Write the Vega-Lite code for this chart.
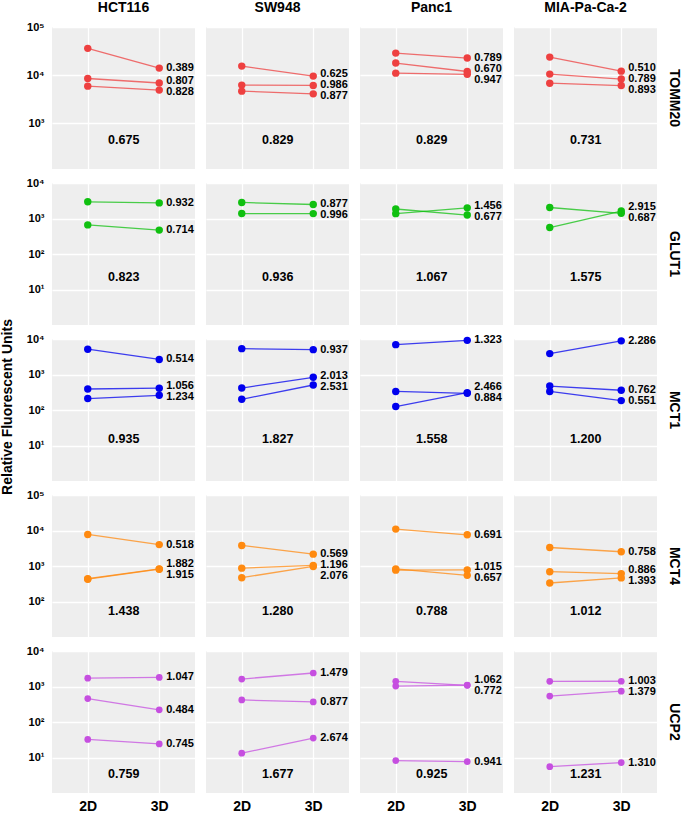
{
"$schema": "https://vega.github.io/schema/vega-lite/v6.json",
"padding": {"left": 1, "top": 1, "right": 2, "bottom": 1},
"title": {"text": "Relative Fluorescent Units", "orient": "left", "anchor": "middle", "fontSize": 14, "fontWeight": "bold", "font": "Liberation Sans", "offset": 11, "color": "black"},
"data": {"values": [
{"p":"TOMM20","c":"HCT116","k":"2D","g":1,"v":36000},{"p":"TOMM20","c":"HCT116","k":"3D","g":1,"v":14000,"r":"0.389","s":"0.675"},
{"p":"TOMM20","c":"HCT116","k":"2D","g":2,"v":8500},{"p":"TOMM20","c":"HCT116","k":"3D","g":2,"v":6860,"r":"0.807"},
{"p":"TOMM20","c":"HCT116","k":"2D","g":3,"v":5900},{"p":"TOMM20","c":"HCT116","k":"3D","g":3,"v":4885,"r":"0.828"},
{"p":"TOMM20","c":"SW948","k":"2D","g":1,"v":15400},{"p":"TOMM20","c":"SW948","k":"3D","g":1,"v":9550,"r":"0.625","s":"0.829"},
{"p":"TOMM20","c":"SW948","k":"2D","g":2,"v":6200},{"p":"TOMM20","c":"SW948","k":"3D","g":2,"v":6100,"r":"0.986"},
{"p":"TOMM20","c":"SW948","k":"2D","g":3,"v":4650},{"p":"TOMM20","c":"SW948","k":"3D","g":3,"v":4080,"r":"0.877"},
{"p":"TOMM20","c":"Panc1","k":"2D","g":1,"v":28700},{"p":"TOMM20","c":"Panc1","k":"3D","g":1,"v":22650,"r":"0.789","s":"0.829"},
{"p":"TOMM20","c":"Panc1","k":"2D","g":2,"v":17800},{"p":"TOMM20","c":"Panc1","k":"3D","g":2,"v":11900,"r":"0.670"},
{"p":"TOMM20","c":"Panc1","k":"2D","g":3,"v":11000},{"p":"TOMM20","c":"Panc1","k":"3D","g":3,"v":10400,"r":"0.947"},
{"p":"TOMM20","c":"MIA-Pa-Ca-2","k":"2D","g":1,"v":23700},{"p":"TOMM20","c":"MIA-Pa-Ca-2","k":"3D","g":1,"v":12100,"r":"0.510","s":"0.731"},
{"p":"TOMM20","c":"MIA-Pa-Ca-2","k":"2D","g":2,"v":10500},{"p":"TOMM20","c":"MIA-Pa-Ca-2","k":"3D","g":2,"v":8280,"r":"0.789"},
{"p":"TOMM20","c":"MIA-Pa-Ca-2","k":"2D","g":3,"v":6800},{"p":"TOMM20","c":"MIA-Pa-Ca-2","k":"3D","g":3,"v":6070,"r":"0.893"},

{"p":"GLUT1","c":"HCT116","k":"2D","g":1,"v":2950},{"p":"GLUT1","c":"HCT116","k":"3D","g":1,"v":2750,"r":"0.932","s":"0.823"},
{"p":"GLUT1","c":"HCT116","k":"2D","g":2,"v":660},{"p":"GLUT1","c":"HCT116","k":"3D","g":2,"v":471,"r":"0.714"},
{"p":"GLUT1","c":"SW948","k":"2D","g":1,"v":2830},{"p":"GLUT1","c":"SW948","k":"3D","g":1,"v":2480,"r":"0.877","s":"0.936"},
{"p":"GLUT1","c":"SW948","k":"2D","g":2,"v":1380},{"p":"GLUT1","c":"SW948","k":"3D","g":2,"v":1375,"r":"0.996"},
{"p":"GLUT1","c":"Panc1","k":"2D","g":1,"v":1370},{"p":"GLUT1","c":"Panc1","k":"3D","g":1,"v":1995,"r":"1.456","s":"1.067"},
{"p":"GLUT1","c":"Panc1","k":"2D","g":2,"v":1850},{"p":"GLUT1","c":"Panc1","k":"3D","g":2,"v":1252,"r":"0.677"},
{"p":"GLUT1","c":"MIA-Pa-Ca-2","k":"2D","g":1,"v":556},{"p":"GLUT1","c":"MIA-Pa-Ca-2","k":"3D","g":1,"v":1620,"r":"2.915","s":"1.575"},
{"p":"GLUT1","c":"MIA-Pa-Ca-2","k":"2D","g":2,"v":2040},{"p":"GLUT1","c":"MIA-Pa-Ca-2","k":"3D","g":2,"v":1400,"r":"0.687"},

{"p":"MCT1","c":"HCT116","k":"2D","g":1,"v":5150},{"p":"MCT1","c":"HCT116","k":"3D","g":1,"v":2650,"r":"0.514","s":"0.935"},
{"p":"MCT1","c":"HCT116","k":"2D","g":2,"v":390},{"p":"MCT1","c":"HCT116","k":"3D","g":2,"v":412,"r":"1.056"},
{"p":"MCT1","c":"HCT116","k":"2D","g":3,"v":210},{"p":"MCT1","c":"HCT116","k":"3D","g":3,"v":259,"r":"1.234"},
{"p":"MCT1","c":"SW948","k":"2D","g":1,"v":5350},{"p":"MCT1","c":"SW948","k":"3D","g":1,"v":5010,"r":"0.937","s":"1.827"},
{"p":"MCT1","c":"SW948","k":"2D","g":2,"v":415},{"p":"MCT1","c":"SW948","k":"3D","g":2,"v":835,"r":"2.013"},
{"p":"MCT1","c":"SW948","k":"2D","g":3,"v":200},{"p":"MCT1","c":"SW948","k":"3D","g":3,"v":506,"r":"2.531"},
{"p":"MCT1","c":"Panc1","k":"2D","g":1,"v":6930},{"p":"MCT1","c":"Panc1","k":"3D","g":1,"v":9170,"r":"1.323","s":"1.558"},
{"p":"MCT1","c":"Panc1","k":"2D","g":2,"v":125},{"p":"MCT1","c":"Panc1","k":"3D","g":2,"v":309,"r":"2.466"},
{"p":"MCT1","c":"Panc1","k":"2D","g":3,"v":333},{"p":"MCT1","c":"Panc1","k":"3D","g":3,"v":294,"r":"0.884"},
{"p":"MCT1","c":"MIA-Pa-Ca-2","k":"2D","g":1,"v":3880},{"p":"MCT1","c":"MIA-Pa-Ca-2","k":"3D","g":1,"v":8870,"r":"2.286","s":"1.200"},
{"p":"MCT1","c":"MIA-Pa-Ca-2","k":"2D","g":2,"v":473},{"p":"MCT1","c":"MIA-Pa-Ca-2","k":"3D","g":2,"v":360,"r":"0.762"},
{"p":"MCT1","c":"MIA-Pa-Ca-2","k":"2D","g":3,"v":333},{"p":"MCT1","c":"MIA-Pa-Ca-2","k":"3D","g":3,"v":184,"r":"0.551"},

{"p":"MCT4","c":"HCT116","k":"2D","g":1,"v":7740},{"p":"MCT4","c":"HCT116","k":"3D","g":1,"v":4010,"r":"0.518","s":"1.438"},
{"p":"MCT4","c":"HCT116","k":"2D","g":2,"v":440},{"p":"MCT4","c":"HCT116","k":"3D","g":2,"v":828,"r":"1.882"},
{"p":"MCT4","c":"HCT116","k":"2D","g":3,"v":425},{"p":"MCT4","c":"HCT116","k":"3D","g":3,"v":814,"r":"1.915"},
{"p":"MCT4","c":"SW948","k":"2D","g":1,"v":3800},{"p":"MCT4","c":"SW948","k":"3D","g":1,"v":2160,"r":"0.569","s":"1.280"},
{"p":"MCT4","c":"SW948","k":"2D","g":2,"v":870},{"p":"MCT4","c":"SW948","k":"3D","g":2,"v":1040,"r":"1.196"},
{"p":"MCT4","c":"SW948","k":"2D","g":3,"v":468},{"p":"MCT4","c":"SW948","k":"3D","g":3,"v":972,"r":"2.076"},
{"p":"MCT4","c":"Panc1","k":"2D","g":1,"v":10960},{"p":"MCT4","c":"Panc1","k":"3D","g":1,"v":7570,"r":"0.691","s":"0.788"},
{"p":"MCT4","c":"Panc1","k":"2D","g":2,"v":765},{"p":"MCT4","c":"Panc1","k":"3D","g":2,"v":776,"r":"1.015"},
{"p":"MCT4","c":"Panc1","k":"2D","g":3,"v":830},{"p":"MCT4","c":"Panc1","k":"3D","g":3,"v":545,"r":"0.657"},
{"p":"MCT4","c":"MIA-Pa-Ca-2","k":"2D","g":1,"v":3320},{"p":"MCT4","c":"MIA-Pa-Ca-2","k":"3D","g":1,"v":2517,"r":"0.758","s":"1.012"},
{"p":"MCT4","c":"MIA-Pa-Ca-2","k":"2D","g":2,"v":690},{"p":"MCT4","c":"MIA-Pa-Ca-2","k":"3D","g":2,"v":611,"r":"0.886"},
{"p":"MCT4","c":"MIA-Pa-Ca-2","k":"2D","g":3,"v":332},{"p":"MCT4","c":"MIA-Pa-Ca-2","k":"3D","g":3,"v":462,"r":"1.393"},

{"p":"UCP2","c":"HCT116","k":"2D","g":1,"v":1720},{"p":"UCP2","c":"HCT116","k":"3D","g":1,"v":1800,"r":"1.047","s":"0.759"},
{"p":"UCP2","c":"HCT116","k":"2D","g":2,"v":457},{"p":"UCP2","c":"HCT116","k":"3D","g":2,"v":221,"r":"0.484"},
{"p":"UCP2","c":"HCT116","k":"2D","g":3,"v":32.4},{"p":"UCP2","c":"HCT116","k":"3D","g":3,"v":24.1,"r":"0.745"},
{"p":"UCP2","c":"SW948","k":"2D","g":1,"v":1620},{"p":"UCP2","c":"SW948","k":"3D","g":1,"v":2400,"r":"1.479","s":"1.677"},
{"p":"UCP2","c":"SW948","k":"2D","g":2,"v":418},{"p":"UCP2","c":"SW948","k":"3D","g":2,"v":367,"r":"0.877"},
{"p":"UCP2","c":"SW948","k":"2D","g":3,"v":13.2},{"p":"UCP2","c":"SW948","k":"3D","g":3,"v":35.3,"r":"2.674"},
{"p":"UCP2","c":"Panc1","k":"2D","g":1,"v":1030},{"p":"UCP2","c":"Panc1","k":"3D","g":1,"v":1094,"r":"1.062","s":"0.925"},
{"p":"UCP2","c":"Panc1","k":"2D","g":2,"v":1400},{"p":"UCP2","c":"Panc1","k":"3D","g":2,"v":1080,"r":"0.772"},
{"p":"UCP2","c":"Panc1","k":"2D","g":3,"v":8.2},{"p":"UCP2","c":"Panc1","k":"3D","g":3,"v":7.7,"r":"0.941"},
{"p":"UCP2","c":"MIA-Pa-Ca-2","k":"2D","g":1,"v":1400},{"p":"UCP2","c":"MIA-Pa-Ca-2","k":"3D","g":1,"v":1404,"r":"1.003","s":"1.231"},
{"p":"UCP2","c":"MIA-Pa-Ca-2","k":"2D","g":2,"v":537},{"p":"UCP2","c":"MIA-Pa-Ca-2","k":"3D","g":2,"v":740,"r":"1.379"},
{"p":"UCP2","c":"MIA-Pa-Ca-2","k":"2D","g":3,"v":5.5},{"p":"UCP2","c":"MIA-Pa-Ca-2","k":"3D","g":3,"v":7.2,"r":"1.310"}
]},
"spacing": 8,
"vconcat": [
{
 "transform": [{"filter": "datum.p === 'TOMM20'"}],
 "facet": {
  "row": {"field": "p", "type": "nominal", "header": {"title": null, "labelOrient": "right", "labelAngle": 90, "labelFontSize": 14, "labelFontWeight": "bold", "labelPadding": 10}},
  "column": {"field": "c", "type": "nominal", "sort": ["HCT116","SW948","Panc1","MIA-Pa-Ca-2"], "header": {"title": null, "labelFontSize": 14, "labelFontWeight": "bold", "labelPadding": 12}}
 },
 "spacing": {"column": 11, "row": 0},
 "spec": {
  "width": 143, "height": 142,
  "encoding": {
   "x": {"field": "k", "type": "ordinal", "scale": {"type": "point", "domain": ["2D","3D"], "padding": 0.5}, "axis": {"labels": false, "title": null, "grid": true}},
   "y": {"field": "v", "type": "quantitative", "scale": {"type": "log", "domain": [112, 100000], "nice": false, "zero": false}, "axis": {"values": [1000, 10000, 100000], "title": null, "labelExpr": "'10' + ['⁰','¹','²','³','⁴','⁵'][round(log(datum.value)/LN10)]"}}
  },
  "layer": [
   {"transform": [{"filter": "isValid(datum.v)"}], "mark": {"type": "line", "color": "#EE4040", "opacity": 0.75, "strokeWidth": 1.3}, "encoding": {"detail": {"field": "g", "type": "nominal"}}},
   {"transform": [{"filter": "isValid(datum.v)"}], "mark": {"type": "circle", "color": "#EE4040", "opacity": 1, "size": 55}},
   {"transform": [{"filter": "datum.k === '3D'"}, {"window": [{"op": "lag", "field": "v", "as": "prev"}, {"op": "lead", "field": "v", "as": "next"}, {"op": "lag", "field": "v", "param": 2, "as": "prev2"}, {"op": "lead", "field": "v", "param": 2, "as": "next2"}], "groupby": ["c"], "sort": [{"field": "v", "order": "ascending"}], "frame": [null, null]}],
    "mark": {"type": "text", "align": "left", "baseline": "middle", "dx": 7, "fontSize": 11, "fontWeight": "bold", "color": "black",
     "dy": {"expr": "((isValid(datum.prev)?20.9*log(datum.v/datum.prev):99)<11 && (isValid(datum.next)?20.9*log(datum.next/datum.v):99)>=11 ? -(min((11-(isValid(datum.prev)?20.9*log(datum.v/datum.prev):99))/2,max(0,(isValid(datum.next)?20.9*log(datum.next/datum.v):99)-11)) + (11-(isValid(datum.prev)?20.9*log(datum.v/datum.prev):99))/2 - min((11-(isValid(datum.prev)?20.9*log(datum.v/datum.prev):99))/2,max(0,(isValid(datum.prev2)?20.9*log(datum.prev/datum.prev2):99)-11))) : 0) + ((isValid(datum.next)?20.9*log(datum.next/datum.v):99)<11 && (isValid(datum.prev)?20.9*log(datum.v/datum.prev):99)>=11 ? (min((11-(isValid(datum.next)?20.9*log(datum.next/datum.v):99))/2,max(0,(isValid(datum.prev)?20.9*log(datum.v/datum.prev):99)-11)) + (11-(isValid(datum.next)?20.9*log(datum.next/datum.v):99))/2 - min((11-(isValid(datum.next)?20.9*log(datum.next/datum.v):99))/2,max(0,(isValid(datum.next2)?20.9*log(datum.next2/datum.next):99)-11))) : 0)"}},
    "encoding": {"text": {"field": "r", "type": "nominal"}}},
   {"transform": [{"filter": "isValid(datum.s)"}], "mark": {"type": "text", "align": "center", "baseline": "middle", "dx": 36, "fontSize": 12.5, "fontWeight": "bold", "color": "black"},
    "encoding": {"x": {"datum": "2D"}, "y": {"datum": 440}, "text": {"field": "s", "type": "nominal"}}}
  ]
 }
},
{
 "transform": [{"filter": "datum.p === 'GLUT1'"}],
 "facet": {
  "row": {"field": "p", "type": "nominal", "header": {"title": null, "labelOrient": "right", "labelAngle": 90, "labelFontSize": 14, "labelFontWeight": "bold", "labelPadding": 10}},
  "column": {"field": "c", "type": "nominal", "sort": ["HCT116","SW948","Panc1","MIA-Pa-Ca-2"], "header": {"title": null, "labels": false}}
 },
 "spacing": {"column": 11, "row": 0},
 "spec": {
  "width": 143, "height": 142,
  "encoding": {
   "x": {"field": "k", "type": "ordinal", "scale": {"type": "point", "domain": ["2D","3D"], "padding": 0.5}, "axis": {"labels": false, "title": null, "grid": true}},
   "y": {"field": "v", "type": "quantitative", "scale": {"type": "log", "domain": [1, 10000], "nice": false, "zero": false}, "axis": {"values": [10, 100, 1000, 10000], "title": null, "labelExpr": "'10' + ['⁰','¹','²','³','⁴','⁵'][round(log(datum.value)/LN10)]"}}
  },
  "layer": [
   {"transform": [{"filter": "isValid(datum.v)"}], "mark": {"type": "line", "color": "#10C010", "opacity": 0.75, "strokeWidth": 1.3}, "encoding": {"detail": {"field": "g", "type": "nominal"}}},
   {"transform": [{"filter": "isValid(datum.v)"}], "mark": {"type": "circle", "color": "#10C010", "opacity": 1, "size": 55}},
   {"transform": [{"filter": "datum.k === '3D'"}, {"window": [{"op": "lag", "field": "v", "as": "prev"}, {"op": "lead", "field": "v", "as": "next"}, {"op": "lag", "field": "v", "param": 2, "as": "prev2"}, {"op": "lead", "field": "v", "param": 2, "as": "next2"}], "groupby": ["c"], "sort": [{"field": "v", "order": "ascending"}], "frame": [null, null]}],
    "mark": {"type": "text", "align": "left", "baseline": "middle", "dx": 7, "fontSize": 11, "fontWeight": "bold", "color": "black",
     "dy": {"expr": "((isValid(datum.prev)?15.42*log(datum.v/datum.prev):99)<11 && (isValid(datum.next)?15.42*log(datum.next/datum.v):99)>=11 ? -(min((11-(isValid(datum.prev)?15.42*log(datum.v/datum.prev):99))/2,max(0,(isValid(datum.next)?15.42*log(datum.next/datum.v):99)-11)) + (11-(isValid(datum.prev)?15.42*log(datum.v/datum.prev):99))/2 - min((11-(isValid(datum.prev)?15.42*log(datum.v/datum.prev):99))/2,max(0,(isValid(datum.prev2)?15.42*log(datum.prev/datum.prev2):99)-11))) : 0) + ((isValid(datum.next)?15.42*log(datum.next/datum.v):99)<11 && (isValid(datum.prev)?15.42*log(datum.v/datum.prev):99)>=11 ? (min((11-(isValid(datum.next)?15.42*log(datum.next/datum.v):99))/2,max(0,(isValid(datum.prev)?15.42*log(datum.v/datum.prev):99)-11)) + (11-(isValid(datum.next)?15.42*log(datum.next/datum.v):99))/2 - min((11-(isValid(datum.next)?15.42*log(datum.next/datum.v):99))/2,max(0,(isValid(datum.next2)?15.42*log(datum.next2/datum.next):99)-11))) : 0)"}},
    "encoding": {"text": {"field": "r", "type": "nominal"}}},
   {"transform": [{"filter": "isValid(datum.s)"}], "mark": {"type": "text", "align": "center", "baseline": "middle", "dx": 36, "fontSize": 12.5, "fontWeight": "bold", "color": "black"},
    "encoding": {"x": {"datum": "2D"}, "y": {"datum": 22}, "text": {"field": "s", "type": "nominal"}}}
  ]
 }
},
{
 "transform": [{"filter": "datum.p === 'MCT1'"}],
 "facet": {
  "row": {"field": "p", "type": "nominal", "header": {"title": null, "labelOrient": "right", "labelAngle": 90, "labelFontSize": 14, "labelFontWeight": "bold", "labelPadding": 10}},
  "column": {"field": "c", "type": "nominal", "sort": ["HCT116","SW948","Panc1","MIA-Pa-Ca-2"], "header": {"title": null, "labels": false}}
 },
 "spacing": {"column": 11, "row": 0},
 "spec": {
  "width": 143, "height": 142,
  "encoding": {
   "x": {"field": "k", "type": "ordinal", "scale": {"type": "point", "domain": ["2D","3D"], "padding": 0.5}, "axis": {"labels": false, "title": null, "grid": true}},
   "y": {"field": "v", "type": "quantitative", "scale": {"type": "log", "domain": [1, 10000], "nice": false, "zero": false}, "axis": {"values": [10, 100, 1000, 10000], "title": null, "labelExpr": "'10' + ['⁰','¹','²','³','⁴','⁵'][round(log(datum.value)/LN10)]"}}
  },
  "layer": [
   {"transform": [{"filter": "isValid(datum.v)"}], "mark": {"type": "line", "color": "#0000EE", "opacity": 0.75, "strokeWidth": 1.3}, "encoding": {"detail": {"field": "g", "type": "nominal"}}},
   {"transform": [{"filter": "isValid(datum.v)"}], "mark": {"type": "circle", "color": "#0000EE", "opacity": 1, "size": 55}},
   {"transform": [{"filter": "datum.k === '3D'"}, {"window": [{"op": "lag", "field": "v", "as": "prev"}, {"op": "lead", "field": "v", "as": "next"}, {"op": "lag", "field": "v", "param": 2, "as": "prev2"}, {"op": "lead", "field": "v", "param": 2, "as": "next2"}], "groupby": ["c"], "sort": [{"field": "v", "order": "ascending"}], "frame": [null, null]}],
    "mark": {"type": "text", "align": "left", "baseline": "middle", "dx": 7, "fontSize": 11, "fontWeight": "bold", "color": "black",
     "dy": {"expr": "((isValid(datum.prev)?15.42*log(datum.v/datum.prev):99)<11 && (isValid(datum.next)?15.42*log(datum.next/datum.v):99)>=11 ? -(min((11-(isValid(datum.prev)?15.42*log(datum.v/datum.prev):99))/2,max(0,(isValid(datum.next)?15.42*log(datum.next/datum.v):99)-11)) + (11-(isValid(datum.prev)?15.42*log(datum.v/datum.prev):99))/2 - min((11-(isValid(datum.prev)?15.42*log(datum.v/datum.prev):99))/2,max(0,(isValid(datum.prev2)?15.42*log(datum.prev/datum.prev2):99)-11))) : 0) + ((isValid(datum.next)?15.42*log(datum.next/datum.v):99)<11 && (isValid(datum.prev)?15.42*log(datum.v/datum.prev):99)>=11 ? (min((11-(isValid(datum.next)?15.42*log(datum.next/datum.v):99))/2,max(0,(isValid(datum.prev)?15.42*log(datum.v/datum.prev):99)-11)) + (11-(isValid(datum.next)?15.42*log(datum.next/datum.v):99))/2 - min((11-(isValid(datum.next)?15.42*log(datum.next/datum.v):99))/2,max(0,(isValid(datum.next2)?15.42*log(datum.next2/datum.next):99)-11))) : 0)"}},
    "encoding": {"text": {"field": "r", "type": "nominal"}}},
   {"transform": [{"filter": "isValid(datum.s)"}], "mark": {"type": "text", "align": "center", "baseline": "middle", "dx": 36, "fontSize": 12.5, "fontWeight": "bold", "color": "black"},
    "encoding": {"x": {"datum": "2D"}, "y": {"datum": 15}, "text": {"field": "s", "type": "nominal"}}}
  ]
 }
},
{
 "transform": [{"filter": "datum.p === 'MCT4'"}],
 "facet": {
  "row": {"field": "p", "type": "nominal", "header": {"title": null, "labelOrient": "right", "labelAngle": 90, "labelFontSize": 14, "labelFontWeight": "bold", "labelPadding": 10}},
  "column": {"field": "c", "type": "nominal", "sort": ["HCT116","SW948","Panc1","MIA-Pa-Ca-2"], "header": {"title": null, "labels": false}}
 },
 "spacing": {"column": 11, "row": 0},
 "spec": {
  "width": 143, "height": 142,
  "encoding": {
   "x": {"field": "k", "type": "ordinal", "scale": {"type": "point", "domain": ["2D","3D"], "padding": 0.5}, "axis": {"labels": false, "title": null, "grid": true}},
   "y": {"field": "v", "type": "quantitative", "scale": {"type": "log", "domain": [10, 100000], "nice": false, "zero": false}, "axis": {"values": [100, 1000, 10000, 100000], "title": null, "labelExpr": "'10' + ['⁰','¹','²','³','⁴','⁵'][round(log(datum.value)/LN10)]"}}
  },
  "layer": [
   {"transform": [{"filter": "isValid(datum.v)"}], "mark": {"type": "line", "color": "#FF8A10", "opacity": 0.75, "strokeWidth": 1.3}, "encoding": {"detail": {"field": "g", "type": "nominal"}}},
   {"transform": [{"filter": "isValid(datum.v)"}], "mark": {"type": "circle", "color": "#FF8A10", "opacity": 1, "size": 55}},
   {"transform": [{"filter": "datum.k === '3D'"}, {"window": [{"op": "lag", "field": "v", "as": "prev"}, {"op": "lead", "field": "v", "as": "next"}, {"op": "lag", "field": "v", "param": 2, "as": "prev2"}, {"op": "lead", "field": "v", "param": 2, "as": "next2"}], "groupby": ["c"], "sort": [{"field": "v", "order": "ascending"}], "frame": [null, null]}],
    "mark": {"type": "text", "align": "left", "baseline": "middle", "dx": 7, "fontSize": 11, "fontWeight": "bold", "color": "black",
     "dy": {"expr": "((isValid(datum.prev)?15.42*log(datum.v/datum.prev):99)<11 && (isValid(datum.next)?15.42*log(datum.next/datum.v):99)>=11 ? -(min((11-(isValid(datum.prev)?15.42*log(datum.v/datum.prev):99))/2,max(0,(isValid(datum.next)?15.42*log(datum.next/datum.v):99)-11)) + (11-(isValid(datum.prev)?15.42*log(datum.v/datum.prev):99))/2 - min((11-(isValid(datum.prev)?15.42*log(datum.v/datum.prev):99))/2,max(0,(isValid(datum.prev2)?15.42*log(datum.prev/datum.prev2):99)-11))) : 0) + ((isValid(datum.next)?15.42*log(datum.next/datum.v):99)<11 && (isValid(datum.prev)?15.42*log(datum.v/datum.prev):99)>=11 ? (min((11-(isValid(datum.next)?15.42*log(datum.next/datum.v):99))/2,max(0,(isValid(datum.prev)?15.42*log(datum.v/datum.prev):99)-11)) + (11-(isValid(datum.next)?15.42*log(datum.next/datum.v):99))/2 - min((11-(isValid(datum.next)?15.42*log(datum.next/datum.v):99))/2,max(0,(isValid(datum.next2)?15.42*log(datum.next2/datum.next):99)-11))) : 0)"}},
    "encoding": {"text": {"field": "r", "type": "nominal"}}},
   {"transform": [{"filter": "isValid(datum.s)"}], "mark": {"type": "text", "align": "center", "baseline": "middle", "dx": 36, "fontSize": 12.5, "fontWeight": "bold", "color": "black"},
    "encoding": {"x": {"datum": "2D"}, "y": {"datum": 54}, "text": {"field": "s", "type": "nominal"}}}
  ]
 }
},
{
 "transform": [{"filter": "datum.p === 'UCP2'"}],
 "facet": {
  "row": {"field": "p", "type": "nominal", "header": {"title": null, "labelOrient": "right", "labelAngle": 90, "labelFontSize": 14, "labelFontWeight": "bold", "labelPadding": 10}},
  "column": {"field": "c", "type": "nominal", "sort": ["HCT116","SW948","Panc1","MIA-Pa-Ca-2"], "header": {"title": null, "labels": false}}
 },
 "spacing": {"column": 11, "row": 0},
 "spec": {
  "width": 143, "height": 142,
  "encoding": {
   "x": {"field": "k", "type": "ordinal", "scale": {"type": "point", "domain": ["2D","3D"], "padding": 0.5}, "axis": {"labels": true, "labelAngle": 0, "labelFontSize": 14, "labelPadding": 6, "title": null, "grid": true}},
   "y": {"field": "v", "type": "quantitative", "scale": {"type": "log", "domain": [1, 10000], "nice": false, "zero": false}, "axis": {"values": [10, 100, 1000, 10000], "title": null, "labelExpr": "'10' + ['⁰','¹','²','³','⁴','⁵'][round(log(datum.value)/LN10)]"}}
  },
  "layer": [
   {"transform": [{"filter": "isValid(datum.v)"}], "mark": {"type": "line", "color": "#C64FE0", "opacity": 0.75, "strokeWidth": 1.3}, "encoding": {"detail": {"field": "g", "type": "nominal"}}},
   {"transform": [{"filter": "isValid(datum.v)"}], "mark": {"type": "circle", "color": "#C64FE0", "opacity": 1, "size": 45}},
   {"transform": [{"filter": "datum.k === '3D'"}, {"window": [{"op": "lag", "field": "v", "as": "prev"}, {"op": "lead", "field": "v", "as": "next"}, {"op": "lag", "field": "v", "param": 2, "as": "prev2"}, {"op": "lead", "field": "v", "param": 2, "as": "next2"}], "groupby": ["c"], "sort": [{"field": "v", "order": "ascending"}], "frame": [null, null]}],
    "mark": {"type": "text", "align": "left", "baseline": "middle", "dx": 7, "fontSize": 11, "fontWeight": "bold", "color": "black",
     "dy": {"expr": "((isValid(datum.prev)?15.42*log(datum.v/datum.prev):99)<11 && (isValid(datum.next)?15.42*log(datum.next/datum.v):99)>=11 ? -(min((11-(isValid(datum.prev)?15.42*log(datum.v/datum.prev):99))/2,max(0,(isValid(datum.next)?15.42*log(datum.next/datum.v):99)-11)) + (11-(isValid(datum.prev)?15.42*log(datum.v/datum.prev):99))/2 - min((11-(isValid(datum.prev)?15.42*log(datum.v/datum.prev):99))/2,max(0,(isValid(datum.prev2)?15.42*log(datum.prev/datum.prev2):99)-11))) : 0) + ((isValid(datum.next)?15.42*log(datum.next/datum.v):99)<11 && (isValid(datum.prev)?15.42*log(datum.v/datum.prev):99)>=11 ? (min((11-(isValid(datum.next)?15.42*log(datum.next/datum.v):99))/2,max(0,(isValid(datum.prev)?15.42*log(datum.v/datum.prev):99)-11)) + (11-(isValid(datum.next)?15.42*log(datum.next/datum.v):99))/2 - min((11-(isValid(datum.next)?15.42*log(datum.next/datum.v):99))/2,max(0,(isValid(datum.next2)?15.42*log(datum.next2/datum.next):99)-11))) : 0)"}},
    "encoding": {"text": {"field": "r", "type": "nominal"}}},
   {"transform": [{"filter": "isValid(datum.s)"}], "mark": {"type": "text", "align": "center", "baseline": "middle", "dx": 36, "fontSize": 12.5, "fontWeight": "bold", "color": "black"},
    "encoding": {"x": {"datum": "2D"}, "y": {"datum": 3.5}, "text": {"field": "s", "type": "nominal"}}}
  ]
 }
}
],
"config": {
 "font": "Liberation Sans",
 "view": {"fill": "#EEEEEE", "stroke": null},
 "axis": {"gridColor": "white", "gridWidth": 1.3, "gridOpacity": 1, "domain": false, "ticks": false, "labelFont": "Liberation Sans", "labelFontWeight": "bold", "labelFontSize": 11, "labelColor": "black", "labelPadding": 8},
 "header": {"labelFont": "Liberation Sans", "labelColor": "black"}
}
}
